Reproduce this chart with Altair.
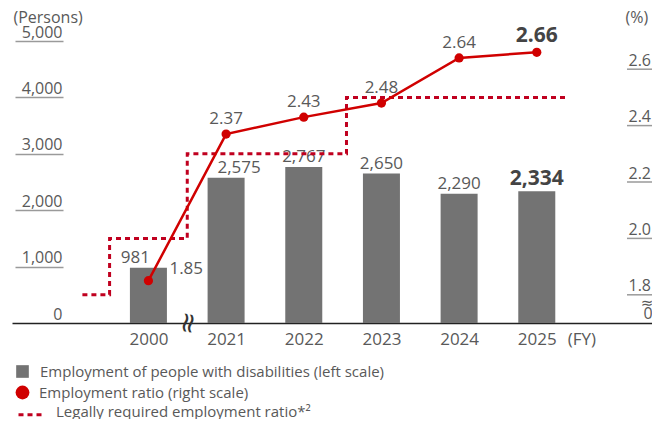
import altair as alt
import pandas as pd

# ---------------- data ----------------
years = ["2000", "2021", "2022", "2023", "2024", "2025"]
employees = [981, 2575, 2767, 2650, 2290, 2334]
employee_labels = ["981", "2,575", "2,767", "2,650", "2,290", "2,334"]
ratios = [1.85, 2.37, 2.43, 2.48, 2.64, 2.66]
ratio_labels = ["1.85", "2.37", "2.43", "2.48", "2.64", "2.66"]

# legally required employment ratio, step breakpoints on the year-index axis
legal_x = [-0.85, -0.5, 0.5, 2.55, 5.4]
legal_ratio = [1.8, 2.0, 2.3, 2.5, 2.5]

left_ticks = [0, 1000, 2000, 3000, 4000, 5000]
right_ticks = [1.8, 2.0, 2.2, 2.4, 2.6]

legend_labels = [
    "Employment of people with disabilities (left scale)",
    "Employment ratio (right scale)",
    "Legally required employment ratio*\u00b2",
]

df = pd.DataFrame({
    "idx": list(range(len(years))),
    "year": years,
    "emp": employees,
    "emp_label": employee_labels,
    "ratio": ratios,
    "ratio_label": ratio_labels,
    "bar_series": legend_labels[0],
    "ratio_series": legend_labels[1],
})
legal_df = pd.DataFrame({"x": legal_x, "level": legal_ratio, "series": legend_labels[2]})
tick_df = pd.DataFrame({"t": right_ticks})

# ---------------- styling ----------------
FONT = "Open Sans"
TXT = "#595959"
BAR = "#737373"
RED = "#d00000"
DASH_RED = "#c0001f"
TICK = "#9a9a9a"

label_expr = "[" + ",".join("'%s'" % y for y in years) + "][datum.value]"
x_scale = alt.Scale(domain=[-1.692, 6.419], nice=False, zero=False)
x_axis = alt.Axis(values=list(range(len(years))), labelExpr=label_expr, title=None,
                  domain=True, domainColor="#222222", domainWidth=1.5, ticks=False,
                  grid=False, labelFont=FONT, labelFontSize=17, labelColor=TXT,
                  labelPadding=8)
X = alt.X("idx:Q", scale=x_scale, axis=x_axis)

left_axis = alt.Axis(values=left_ticks, format=",d", orient="left", offset=-51,
                     domain=False, grid=False, ticks=True, tickSize=48,
                     tickColor=TICK, tickWidth=1.5,
                     tickOpacity={"condition": {"test": "datum.value == 0", "value": 0}, "value": 1},
                     labelAlign="right", labelBaseline="alphabetic", labelPadding=-47,
                     labelOffset=-4, labelFont=FONT, labelFontSize=16, labelColor=TXT,
                     title="(Persons)", titleAngle=0, titleAlign="left", titleBaseline="middle",
                     titleX=-50, titleY=-24, titleFont=FONT, titleFontSize=16,
                     titleFontWeight="normal", titleColor=TXT)
left_scale = alt.Scale(domain=[0, 5000], nice=False)

right_axis = alt.Axis(values=right_ticks, format=".1f", orient="right", offset=-24,
                      domain=False, grid=False, ticks=False,
                      labelAlign="left", labelBaseline="alphabetic", labelPadding=0,
                      labelOffset=-4, labelFont=FONT, labelFontSize=16, labelColor=TXT,
                      title="(%)", titleAngle=0, titleAlign="left", titleBaseline="middle",
                      titleX=-3, titleY=-24, titleFont=FONT, titleFontSize=16,
                      titleFontWeight="normal", titleColor=TXT)
right_scale = alt.Scale(domain=[1.7, 2.7], nice=False, zero=False)

YL = alt.Y("emp:Q", scale=left_scale, axis=left_axis)
YR = alt.Y("ratio:Q", scale=right_scale, axis=right_axis)

def legend(x, y, **kw):
    return alt.Legend(title=None, orient="none", legendX=x, legendY=y, padding=0,
                      labelFont=FONT, labelFontSize=15, labelColor=TXT, labelLimit=600,
                      **kw)

# ---------------- left group: bars ----------------
bars = alt.Chart(df).mark_bar(size=37).encode(
    x=X, y=YL,
    color=alt.Color("bar_series:N",
                    scale=alt.Scale(domain=[legend_labels[0]], range=[BAR]),
                    legend=legend(3, 323, symbolType="square", symbolSize=160,
                                  symbolStrokeWidth=0, labelOffset=10)),
)
bt_base = alt.Chart(df).encode(x=X, y=YL, text="emp_label:N")
bt0 = bt_base.transform_filter("datum.idx == 0").mark_text(
    font=FONT, fontSize=17, color=TXT, baseline="alphabetic", dy=-5, dx=-13)
bt1 = bt_base.transform_filter("datum.idx == 1").mark_text(
    font=FONT, fontSize=17, color=TXT, baseline="alphabetic", dy=-5, dx=13)
btm = bt_base.transform_filter("datum.idx >= 2 && datum.idx <= 4").mark_text(
    font=FONT, fontSize=17, color=TXT, baseline="alphabetic", dy=-5)
bt5 = bt_base.transform_filter("datum.idx == 5").mark_text(
    font=FONT, fontSize=21, fontWeight="bold", color="#444444", baseline="alphabetic", dy=-6)

left = alt.layer(bars, bt0, bt1, btm, bt5)

# ---------------- right group: ratios ----------------
legal = alt.Chart(legal_df).mark_line(interpolate="step-after", color=DASH_RED, strokeWidth=3).encode(
    x=alt.X("x:Q", scale=x_scale, axis=x_axis),
    y=alt.Y("level:Q", scale=right_scale, axis=right_axis),
    strokeDash=alt.StrokeDash("series:N",
                              scale=alt.Scale(domain=[legend_labels[2]], range=[[5, 4]]),
                              legend=legend(5, 356, symbolType="M-1,0.2H1", symbolSize=729,
                                            symbolStrokeWidth=3, symbolStrokeColor=DASH_RED,
                                            symbolFillColor="transparent",
                                            labelOffset=9)),
)
# underline ticks of the right scale (drawn as short rules under the labels)
rticks = alt.Chart(tick_df).mark_rule(color=TICK, strokeWidth=1.5, opacity=1).encode(
    y=alt.Y("t:Q", scale=right_scale, axis=right_axis),
    x=alt.value(615), x2=alt.value(646))
line = alt.Chart(df).mark_line(color=RED, strokeWidth=2.5).encode(x=X, y=YR)
points = alt.Chart(df).mark_circle(size=85, opacity=1).encode(
    x=X, y=YR,
    fill=alt.Fill("ratio_series:N",
                  scale=alt.Scale(domain=[legend_labels[1]], range=[RED]),
                  legend=legend(3, 344, symbolType="circle", symbolSize=190,
                                symbolStrokeWidth=0, labelOffset=9)),
)
rt_base = alt.Chart(df).encode(x=X, y=YR, text="ratio_label:N")
rt0 = rt_base.transform_filter("datum.idx == 0").mark_text(
    font=FONT, fontSize=17, color=TXT, baseline="alphabetic", align="left", dx=21, dy=-7)
rtm = rt_base.transform_filter("datum.idx >= 1 && datum.idx <= 4").mark_text(
    font=FONT, fontSize=17, color=TXT, baseline="alphabetic", dy=-10)
rt5 = rt_base.transform_filter("datum.idx == 5").mark_text(
    font=FONT, fontSize=21, fontWeight="bold", color="#444444", baseline="alphabetic", dy=-10)

# axis break marks and unit note
ann = alt.Chart(pd.DataFrame({"a": [0]}))
x_break = ann.mark_text(text="\u2248", font="DejaVu Sans", fontSize=28, color="#333333",
                        angle=100, baseline="middle", align="center").encode(
    x=alt.datum(0.5, scale=x_scale), y=alt.value(282))
r_break = ann.mark_text(text="\u2248", font="DejaVu Sans", fontSize=15, color=TXT,
                        baseline="middle", align="center").encode(
    x=alt.value(635), y=alt.value(262))
r_zero = ann.mark_text(text="0", font=FONT, fontSize=16, color=TXT,
                       baseline="middle", align="center").encode(
    x=alt.value(636), y=alt.value(273))
fy = ann.mark_text(text="(FY)", font=FONT, fontSize=17, color=TXT,
                   baseline="middle", align="left", dx=31).encode(
    x=alt.datum(5, scale=x_scale), y=alt.value(299))

right = alt.layer(legal, line, points, rticks, rt0, rtm, rt5, x_break, r_break, r_zero, fy)

chart = alt.layer(left, right).resolve_scale(y="independent").properties(
    width=640, height=282,
    padding={"left": 4, "top": 33, "right": 0, "bottom": 96},
    autosize=alt.AutoSizeParams(type="none"),
).configure_view(stroke=None)

chart.save("out.html", embed_options={"renderer": "svg", "actions": False})
